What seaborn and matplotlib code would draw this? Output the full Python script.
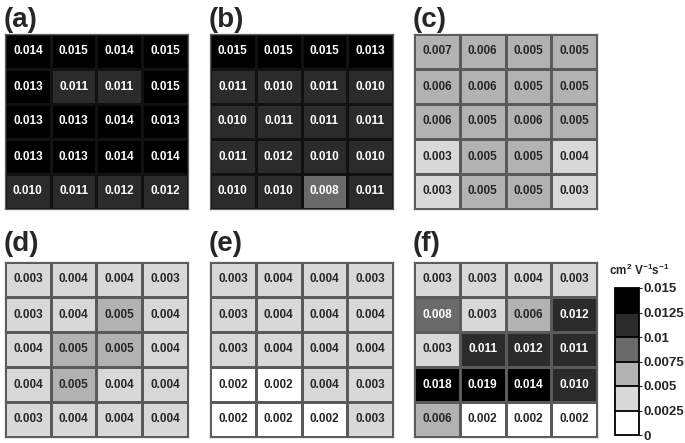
import numpy as np
import matplotlib
matplotlib.use('Agg')
import matplotlib.pyplot as plt
from matplotlib.colors import ListedColormap, BoundaryNorm
import seaborn as sns

sns.set_style('white')
plt.rcParams['font.family'] = ['Liberation Sans', 'DejaVu Sans']
plt.rcParams['mathtext.fontset'] = 'custom'
plt.rcParams['mathtext.rm'] = 'Liberation Sans:bold'
plt.rcParams['mathtext.it'] = 'Liberation Sans:bold'
plt.rcParams['mathtext.bf'] = 'Liberation Sans:bold'

# mobility maps, 5 rows x 4 columns each
panel_a = [[0.014, 0.015, 0.014, 0.015],
           [0.013, 0.011, 0.011, 0.015],
           [0.013, 0.013, 0.014, 0.013],
           [0.013, 0.013, 0.014, 0.014],
           [0.010, 0.011, 0.012, 0.012]]
panel_b = [[0.015, 0.015, 0.015, 0.013],
           [0.011, 0.010, 0.011, 0.010],
           [0.010, 0.011, 0.011, 0.011],
           [0.011, 0.012, 0.010, 0.010],
           [0.010, 0.010, 0.008, 0.011]]
panel_c = [[0.007, 0.006, 0.005, 0.005],
           [0.006, 0.006, 0.005, 0.005],
           [0.006, 0.005, 0.006, 0.005],
           [0.003, 0.005, 0.005, 0.004],
           [0.003, 0.005, 0.005, 0.003]]
panel_d = [[0.003, 0.004, 0.004, 0.003],
           [0.003, 0.004, 0.005, 0.004],
           [0.004, 0.005, 0.005, 0.004],
           [0.004, 0.005, 0.004, 0.004],
           [0.003, 0.004, 0.004, 0.004]]
panel_e = [[0.003, 0.004, 0.004, 0.003],
           [0.003, 0.004, 0.004, 0.004],
           [0.003, 0.004, 0.004, 0.004],
           [0.002, 0.002, 0.004, 0.003],
           [0.002, 0.002, 0.002, 0.003]]
panel_f = [[0.003, 0.003, 0.004, 0.003],
           [0.008, 0.003, 0.006, 0.012],
           [0.003, 0.011, 0.012, 0.011],
           [0.018, 0.019, 0.014, 0.010],
           [0.006, 0.002, 0.002, 0.002]]

labels = ['(a)', '(b)', '(c)', '(d)', '(e)', '(f)']
bounds = [0, 0.0025, 0.005, 0.0075, 0.01, 0.0125, 0.015]
tick_labels = ['0', '0.0025', '0.005', '0.0075', '0.01', '0.0125', '0.015']
grays = ['#ffffff', '#d8d8d8', '#b2b2b2', '#6a6a6a', '#2b2b2b', '#000000']

cmap = ListedColormap(grays)
cmap.set_over('#000000')
norm = BoundaryNorm(bounds, cmap.N)

W, H = 685, 443
fig = plt.figure(figsize=(W / 100, H / 100), dpi=100)

lefts = [5, 210, 414]
tops = [34, 262]
label_base = [27, 251]
pw, ph = 183, 175
panels = [panel_a, panel_b, panel_c, panel_d, panel_e, panel_f]
line_colors = ['#111111', '#111111', '#5a5a5a', '#5a5a5a', '#5a5a5a', '#5a5a5a']

cax = fig.add_axes([615 / W, 1 - 435 / H, 24 / W, 147 / H])

for i, (data, lab) in enumerate(zip(panels, labels)):
    r, c = divmod(i, 3)
    ax = fig.add_axes([lefts[c] / W, 1 - (tops[r] + ph) / H, pw / W, ph / H])
    last = i == 5
    sns.heatmap(np.array(data), ax=ax, cmap=cmap, norm=norm,
                annot=True, fmt='.3f',
                annot_kws={'fontsize': 8.5, 'fontweight': 'bold'},
                linewidths=0.9, linecolor=line_colors[i],
                cbar=last, cbar_ax=cax if last else None,
                cbar_kws={'ticks': bounds, 'drawedges': True} if last else None,
                xticklabels=False, yticklabels=False)
    for s in ax.spines.values():
        s.set_visible(True)
        s.set_color('#606060')
        s.set_linewidth(0.9)
    fig.text((lefts[c] - 1) / W, 1 - label_base[r] / H, lab,
             fontsize=20, fontweight='bold', va='baseline', ha='left')
    if last:
        cb = ax.collections[0].colorbar

cb.outline.set_edgecolor('black')
cb.outline.set_linewidth(1.3)
cb.dividers.set_color('black')
cb.dividers.set_linewidth(1.3)
cax.set_yticks(bounds)
cax.set_yticklabels(tick_labels, fontsize=9.5, fontweight='bold')
cax.tick_params(axis='y', length=2, width=0.8, pad=1)
fig.text(609 / W, 1 - 270 / H, r'cm$^{2}$ V$^{-1}$s$^{-1}$',
         fontsize=8.5, fontweight='bold', va='center', ha='left')

fig.savefig('out.png', dpi=100)
